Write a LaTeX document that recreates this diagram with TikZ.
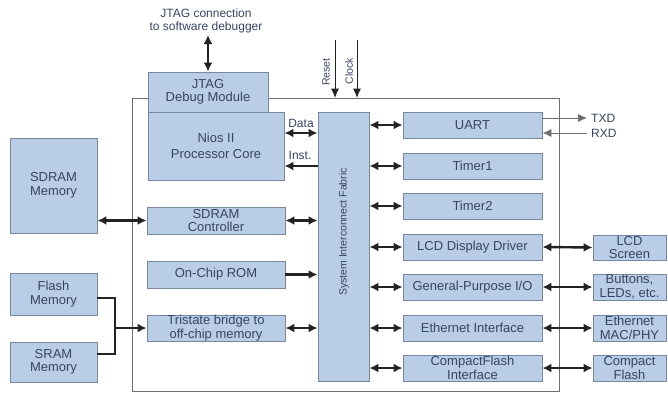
\documentclass[tikz,border=0pt]{standalone}
\usepackage{fontspec}
\setmainfont{Liberation Sans}
\usetikzlibrary{arrows.meta}
\definecolor{boxfill}{RGB}{186,205,230}
\definecolor{boxline}{RGB}{120,135,160}
\definecolor{txt}{RGB}{55,68,98}
\definecolor{arr}{RGB}{35,35,35}
\definecolor{thin}{RGB}{110,110,110}
\tikzset{
  blk/.style={draw=boxline, fill=boxfill, line width=0.9pt, text=txt, align=center, inner sep=0pt,
    font=\fontsize{13}{13.5}\selectfont},
  lbl/.style={text=txt, inner sep=0pt, font=\fontsize{12}{13}\selectfont},
  bus/.style={draw=arr, line width=2.4pt, {Latex[length=9pt,width=9pt]}-{Latex[length=9pt,width=9pt]}},
  busr/.style={draw=arr, line width=2.4pt, -{Latex[length=9pt,width=9pt]}},
  busl/.style={draw=arr, line width=2.4pt},
  sig/.style={draw=thin, line width=0.8pt, -{Latex[length=9pt,width=8pt]}},
}
\newcommand\mkbox[6]{\node[blk, minimum width={(#4-#2)*1pt}, minimum height={(#5-#3)*1pt}] (#1) at ({(#2+#4)/2},{(#3+#5)/2}) {#6};}
\begin{document}
\begin{tikzpicture}[x=1pt,y=-1pt]
\useasboundingbox (0,0) rectangle (668,394);
% chip outline
\node[draw=thin, line width=0.6pt, minimum width=427pt, minimum height=293pt, inner sep=0pt] (chip) at (345.5,244.5) {};
% boxes
\mkbox{jtag}{148}{72}{268}{112}{JTAG\\Debug Module}
\mkbox{nios}{148}{112}{284}{180}{Nios II\\[2pt]Processor Core}
\mkbox{fabric}{318}{112}{369}{381}{}
\mkbox{sdrammem}{10}{138}{97}{233}{SDRAM\\Memory}
\mkbox{sdramctl}{147}{207}{285}{234}{SDRAM\\Controller}
\mkbox{rom}{147}{261}{285}{288}{On-Chip ROM}
\mkbox{tri}{147}{315}{285}{341}{Tristate bridge to\\off-chip memory}
\mkbox{flash}{10}{273}{97}{315}{Flash\\Memory}
\mkbox{sram}{10}{342}{97}{382}{SRAM\\Memory}
\mkbox{uart}{403}{112}{542}{138}{UART}
\mkbox{timer1}{403}{153}{542}{179}{Timer1}
\mkbox{timer2}{403}{193}{542}{219}{Timer2}
\mkbox{lcd}{403}{234}{542}{260}{LCD Display Driver}
\mkbox{gpio}{403}{274}{542}{300}{General-Purpose I/O}
\mkbox{eth}{403}{315}{542}{341}{Ethernet Interface}
\mkbox{cf}{403}{355}{542}{381}{CompactFlash\\Interface}
\mkbox{lcdscr}{593}{235}{666}{260}{LCD\\Screen}
\mkbox{btn}{593}{274}{666}{300}{Buttons,\\LEDs, etc.}
\mkbox{ethmac}{593}{315}{666}{341}{Ethernet\\MAC/PHY}
\mkbox{cfcard}{593}{355}{666}{381}{Compact\\Flash}
% fabric label
\node[lbl, rotate=90, font=\fontsize{10.5}{12}\selectfont] (fabtxt) at (344,232) {System Interconnect Fabric};
% top labels
\node[lbl, align=center, font=\fontsize{12}{13}\selectfont] (jtagtxt) at (206,21) {JTAG connection\\to software debugger};
\coordinate (jtop) at (208,35);
\draw[bus] (jtop) -- (jtag.north);
\coordinate (rst) at (335,40);
\coordinate (clk) at (357,40);
\draw[sig, draw=arr] (rst) -- (rst |- chip.north);
\draw[sig, draw=arr] (clk) -- (clk |- chip.north);
\node[lbl, rotate=90, font=\fontsize{10.5}{12}\selectfont] (rsttxt) at (326,72) {Reset};
\node[lbl, rotate=90, font=\fontsize{10.5}{12}\selectfont] (clktxt) at (349,71) {Clock};
% Nios to fabric
\draw[bus] ([yshift=13pt]nios.east) -- ([yshift=13pt]nios.east -| fabric.west);
\draw[busr] ([yshift=-20pt]nios.east -| fabric.west) -- ([yshift=-20pt]nios.east);
\node[lbl] (datatxt) at (301,123) {Data};
\node[lbl] (insttxt) at (300,155) {Inst.};
% left side
\draw[bus] (sdramctl.west -| sdrammem.east) -- (sdramctl.west);
\draw[bus] (sdramctl.east) -- (sdramctl.east -| fabric.west);
\draw[busr] (rom.east) -- (rom.east -| fabric.west);
\draw[bus] (tri.east) -- (tri.east -| fabric.west);
\coordinate (jn) at (115,328);
\draw[busl] ([yshift=-4pt]flash.east) -| (jn);
\draw[busl] ([yshift=8pt]sram.east) -| (jn);
\draw[busr] (jn) -- (tri.west);
% right side
\foreach \b in {uart,timer1,timer2,lcd,gpio,eth,cf}{
  \draw[bus] (\b.west -| fabric.east) -- (\b.west);
}
\draw[bus] (lcd.east) -- (lcdscr.west);
\draw[bus] (gpio.east) -- (btn.west);
\draw[bus] (eth.east) -- (ethmac.west);
\draw[bus] (cf.east) -- (cfcard.west);
% UART serial
\coordinate (txd) at (587,118);
\coordinate (rxd) at (587,133);
\draw[sig] ([yshift=7pt]uart.east) -- (txd);
\draw[sig] (rxd) -- ([yshift=-8pt]uart.east);
\node[lbl, anchor=west] (txdtxt) at (591,118) {TXD};
\node[lbl, anchor=west] (rxdtxt) at (591,133) {RXD};
\end{tikzpicture}
\end{document}
